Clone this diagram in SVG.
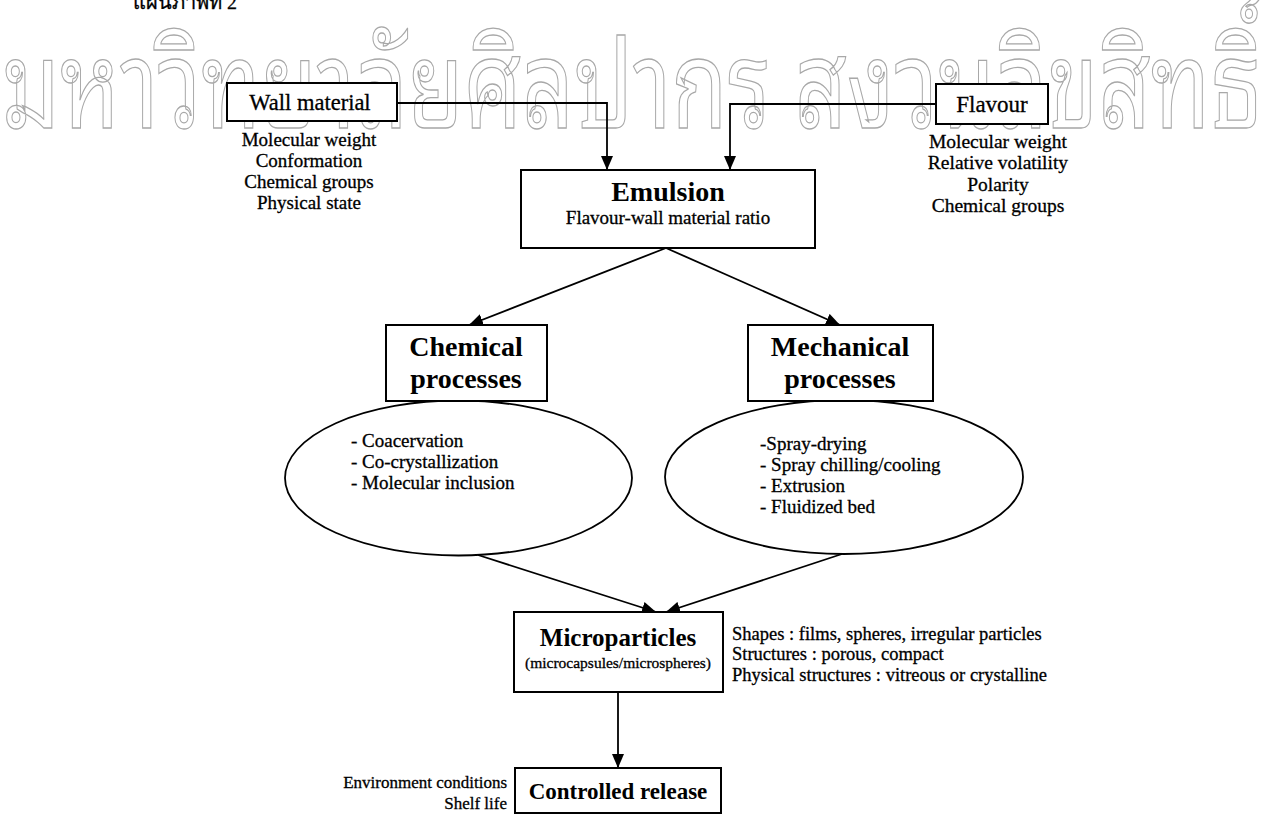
<svg xmlns="http://www.w3.org/2000/svg" width="1266" height="840" viewBox="0 0 1266 840">
<defs>
<style>
.box{fill:#fff;stroke:#000;stroke-width:2}
.ell{fill:#fff;stroke:#000;stroke-width:1.8}
.ln{fill:none;stroke:#000;stroke-width:1.8}
.t{font-family:"Liberation Serif","Times New Roman",serif;fill:#000;stroke:#000;stroke-width:0.3}
.h{font-family:"Liberation Serif","Times New Roman",serif;font-weight:bold;fill:#000}
.wm{font-family:"Noto Sans Thai Looped","Noto Serif Thai","Kinnari","Norasi","Loma","Garuda","Noto Sans Thai","DejaVu Sans",sans-serif;fill:#fff;stroke:#a8a8a8;stroke-width:1.3}
</style>
<marker id="ah" viewBox="0 0 14 12" refX="14" refY="6" markerWidth="14" markerHeight="12" markerUnits="userSpaceOnUse" orient="auto">
<path d="M0,0 L14,6 L0,12 Z" fill="#000"/>
</marker>
</defs>
<rect width="1266" height="840" fill="#fff"/>
<text class="t" x="133" y="9" font-size="20">แผนภาพที่ 2</text>
<text class="wm" x="2" y="128" font-size="122" textLength="1260" lengthAdjust="spacingAndGlyphs">มหาวิทยาลัยศิลปากร สงวนลิขสิทธิ์</text>

<g id="connectors">
<path class="ln" d="M397,103 H607 V170" marker-end="url(#ah)"/>
<path class="ln" d="M936,104 H730 V170" marker-end="url(#ah)"/>
<path class="ln" d="M666,248 L469,325" marker-end="url(#ah)"/>
<path class="ln" d="M666,248 L840,325" marker-end="url(#ah)"/>
<path class="ln" d="M478,555 L656,612" marker-end="url(#ah)"/>
<path class="ln" d="M842,554 L666,612" marker-end="url(#ah)"/>
<path class="ln" d="M618,692 V768" marker-end="url(#ah)"/>
</g>

<g id="wall">
<rect class="box" x="227" y="83" width="170" height="38"/>
<text class="t" x="310" y="110" font-size="22.5" text-anchor="middle">Wall material</text>
<text class="t" x="309" y="146" font-size="19" text-anchor="middle">Molecular weight</text>
<text class="t" x="309" y="167" font-size="19" text-anchor="middle">Conformation</text>
<text class="t" x="309" y="188" font-size="19" text-anchor="middle">Chemical groups</text>
<text class="t" x="309" y="209" font-size="19" text-anchor="middle">Physical state</text>
</g>

<g id="flavour">
<rect class="box" x="936" y="84" width="112" height="40"/>
<text class="t" x="992" y="112" font-size="23" text-anchor="middle">Flavour</text>
<text class="t" x="998" y="148" font-size="19.5" text-anchor="middle">Molecular weight</text>
<text class="t" x="998" y="169" font-size="19.5" text-anchor="middle">Relative volatility</text>
<text class="t" x="998" y="191" font-size="19.5" text-anchor="middle">Polarity</text>
<text class="t" x="998" y="212" font-size="19.5" text-anchor="middle">Chemical groups</text>
</g>

<g id="emulsion">
<rect class="box" x="521" y="170" width="294" height="78"/>
<text class="h" x="668" y="201" font-size="28" text-anchor="middle">Emulsion</text>
<text class="t" x="668" y="224" font-size="19" text-anchor="middle">Flavour-wall material ratio</text>
</g>

<g id="chemical">
<ellipse class="ell" cx="458.5" cy="478" rx="173.5" ry="77.5"/>
<rect class="box" x="386" y="325" width="161" height="76"/>
<text class="h" x="466" y="356" font-size="28" text-anchor="middle">Chemical</text>
<text class="h" x="466" y="388" font-size="28" text-anchor="middle">processes</text>
<text class="t" x="351" y="447" font-size="19">- Coacervation</text>
<text class="t" x="351" y="468" font-size="19">- Co-crystallization</text>
<text class="t" x="351" y="489" font-size="19">- Molecular inclusion</text>
</g>

<g id="mechanical">
<ellipse class="ell" cx="844" cy="477" rx="179" ry="77"/>
<rect class="box" x="748" y="325" width="185" height="76"/>
<text class="h" x="840" y="356" font-size="28" text-anchor="middle">Mechanical</text>
<text class="h" x="840" y="388" font-size="28" text-anchor="middle">processes</text>
<text class="t" x="760" y="450" font-size="19">-Spray-drying</text>
<text class="t" x="760" y="471" font-size="19">- Spray chilling/cooling</text>
<text class="t" x="760" y="492" font-size="19">- Extrusion</text>
<text class="t" x="760" y="513" font-size="19">- Fluidized bed</text>
</g>

<g id="microparticles">
<rect class="box" x="514" y="612" width="209" height="80"/>
<text class="h" x="618" y="646" font-size="25" text-anchor="middle">Microparticles</text>
<text class="t" x="618" y="668" font-size="15.5" text-anchor="middle">(microcapsules/microspheres)</text>
<text class="t" x="732" y="640" font-size="18.5">Shapes : films, spheres, irregular particles</text>
<text class="t" x="732" y="660" font-size="18.5">Structures : porous, compact</text>
<text class="t" x="732" y="681" font-size="18.5">Physical structures : vitreous or crystalline</text>
</g>

<g id="controlled">
<rect class="box" x="515" y="768" width="206" height="45"/>
<text class="h" x="618" y="799" font-size="23" text-anchor="middle">Controlled release</text>
<text class="t" x="507" y="788" font-size="17" text-anchor="end">Environment conditions</text>
<text class="t" x="507" y="809" font-size="17" text-anchor="end">Shelf life</text>
</g>
</svg>
